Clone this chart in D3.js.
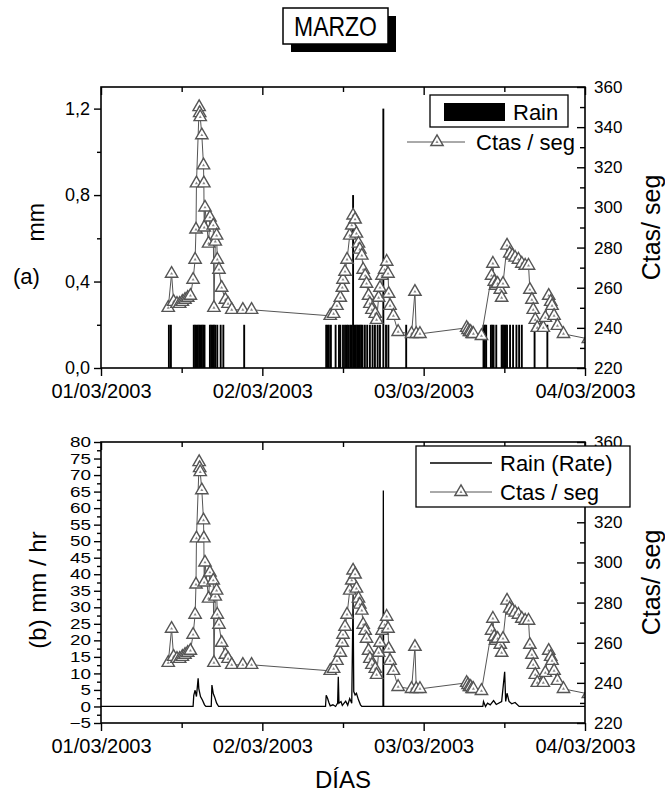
<!DOCTYPE html>
<html>
<head>
<meta charset="utf-8">
<script src="https://cdn.jsdelivr.net/npm/d3@7"></script>
<style>
  body { margin: 0; background: #fff; }
  svg { display: block; font-family: "Liberation Sans", Arial, Helvetica, sans-serif; }
</style>
</head>
<body>
<svg id="chart" width="665" height="800"></svg>
<script>
// ---- data (times are hours after 01/03/2003 00:00) ----
const xTickLabels = ["01/03/2003", "02/03/2003", "03/03/2003", "04/03/2003"];
const mmTicks = [0, 0.4, 0.8, 1.2];
const mmMinorTicks = [0.2, 0.6, 1.0];
const rateTicks = [-5, 0, 5, 10, 15, 20, 25, 30, 35, 40, 45, 50, 55, 60, 65, 70, 75, 80];
const ctasTicks = [220, 240, 260, 280, 300, 320, 340, 360];

// counts per second
const ctasHours = [
  10.0, 10.5, 10.8, 11.3, 11.7, 12.1, 12.5, 12.9, 13.3, 13.7, 14.0, 14.13, 14.2, 14.6, 14.68, 14.76,
  15.0, 15.25, 15.3, 15.35, 15.47, 16.0, 16.2, 16.7, 16.8, 17.0, 17.2, 17.3, 17.55, 17.95, 18.5, 18.9,
  19.45, 21.1, 22.4,
  34.1, 34.6, 35.1, 35.6, 35.9, 36.0, 36.3, 36.6, 37.0, 37.3, 37.5, 37.8, 38.0, 38.3, 38.5, 38.8,
  39.0, 39.3, 39.5, 39.8, 40.0, 40.3, 40.8, 41.0, 41.3, 41.5, 41.8, 42.2, 42.5, 42.7, 42.8, 43.0,
  43.5, 44.2, 46.2, 46.7, 46.9, 47.45,
  54.4, 54.6, 54.8, 55.0, 55.2, 55.4, 56.6, 58.1, 58.3, 58.5, 58.7, 59.0, 59.4, 59.6, 59.8, 60.4,
  60.8, 61.2, 61.6, 62.1, 62.6, 63.1, 63.6, 63.8, 64.1, 64.3, 64.6, 64.9, 65.8, 66.1, 66.6, 66.9,
  67.1, 67.4, 67.9, 68.8, 72.5
];
const ctasValues = [
  250, 267, 253, 252, 252, 253, 254, 255, 256, 264, 274, 289, 312, 350, 347, 345,
  336, 321, 312, 290, 300, 282, 295, 291, 250, 283, 286, 274, 269, 260, 254, 252,
  249, 249, 249,
  246, 247, 251, 255, 260, 264, 268, 274, 286, 291, 296, 294, 287, 282, 279, 276,
  269, 266, 262, 256, 252, 249, 247, 244, 255, 260, 266, 269, 273, 267, 257, 251,
  246, 238, 237, 258, 237, 237,
  240, 239, 238, 238, 237, 237, 236, 266, 272, 263, 261, 262, 259, 255, 262, 281,
  277, 276, 275, 274, 272, 271, 271, 259, 254, 249, 244, 240, 240, 245, 256, 253,
  251, 246, 241, 237, 234.5
];

// rain gauge tips (mm)
const rainHours = [
  10.1, 10.4, 13.8, 14.0, 14.2, 14.4, 14.6, 14.8, 15.0, 15.2, 15.4, 16.2, 16.4, 16.6, 16.8, 17.0,
  17.3, 17.8, 18.2, 21.3,
  33.5, 33.7, 33.9, 34.2, 34.9, 35.4, 35.6, 36.0, 36.3, 36.55, 36.75, 37.05, 37.3, 37.5, 37.7, 37.9,
  38.1, 38.3, 38.5, 38.7, 38.9, 39.25, 39.6, 40.0, 40.4, 40.75, 41.15, 41.5, 42.0, 42.4, 42.75, 45.4,
  56.9, 57.1, 57.3, 58.0, 58.2, 58.4, 58.8, 59.6, 59.8, 60.0, 60.2, 60.4, 60.85, 61.3, 61.8, 62.2,
  62.6, 64.5, 66.4
];
const rainMm = [
  0.2, 0.2, 0.2, 0.2, 0.2, 0.2, 0.2, 0.2, 0.2, 0.2, 0.2, 0.2, 0.2, 0.2, 0.2, 0.2,
  0.2, 0.2, 0.2, 0.2,
  0.2, 0.2, 0.2, 0.2, 0.2, 0.2, 0.2, 0.2, 0.2, 0.2, 0.2, 0.2, 0.2, 0.8, 0.2, 0.2,
  0.2, 0.2, 0.2, 0.2, 0.2, 0.2, 0.2, 0.2, 0.2, 0.2, 0.2, 0.2, 1.2, 0.2, 0.2, 0.2,
  0.2, 0.2, 0.2, 0.2, 0.2, 0.2, 0.2, 0.2, 0.2, 0.2, 0.2, 0.2, 0.2, 0.2, 0.2, 0.2,
  0.2, 0.2, 0.2
];

// rain rate (mm/hr)
const rateHours = [
  0, 13.7, 13.8, 14.0, 14.2, 14.45, 14.55, 14.8, 15.1, 15.4, 15.6, 16.4, 16.5, 16.7, 16.9, 17.2, 17.5,
  33.4, 33.5, 33.7, 33.9, 34.1, 34.5, 34.9, 35.2, 35.3, 35.4, 35.7, 35.9, 36.4, 36.7, 37.0, 37.3,
  37.5, 37.6, 37.8, 38.0, 38.3, 38.6, 38.8, 41.95, 42.0, 42.05,
  56.8, 56.9, 57.2, 57.5, 57.9, 58.4, 58.8, 59.6, 60.05, 60.2, 60.4, 60.7, 61.1, 61.6, 62.2, 72
];
const rateValues = [
  0, 0, 3.4, 4.9, 3, 8.5, 5.4, 3, 1.9, 0.5, 0, 0, 6.5, 3.9, 2.9, 1, 0,
  0, 3.4, 2.5, 1.2, 0.2, 0.5, 0, 1, 9, 1, 1.5, 0.3, 1.6, 0.4, 2.4, 1,
  33.7, 4.5, 3.5, 4, 2, 0.5, 0, 0, 65.3, 0,
  0, 1.5, 0, 1, 0.5, 1.8, 0.6, 1.5, 10.5, 1.5, 4, 1.5, 0.8, 1.2, 0, 0
];

// ---- layout ----
const svg = d3.select("#chart");
const X0 = 101, X1 = 585;
const A = { top: 87, bottom: 368 };
const B = { top: 442, bottom: 723 };
const LINE_GREY = "#555";
const FONT = "'Liberation Sans', Arial, sans-serif";

const parseDay = d3.timeParse("%d/%m/%Y");
const xTickDates = xTickLabels.map(parseDay);
const start = xTickDates[0];
const at = h => new Date(start.getTime() + h * 3600e3);

const x = d3.scaleTime().domain([xTickDates[0], xTickDates[xTickDates.length - 1]]).range([X0, X1]);
const xMinor = d3.timeHour.every(12).range(xTickDates[0], xTickDates[xTickDates.length - 1])
  .filter(d => d.getHours() !== 0);

const yMm = d3.scaleLinear().domain([0, 1.3]).range([A.bottom, A.top]);
const yRate = d3.scaleLinear().domain([-5, 80]).range([B.bottom, B.top]);
const yCtasA = d3.scaleLinear().domain([220, 360]).range([A.bottom, A.top]);
const yCtasB = d3.scaleLinear().domain([220, 360]).range([B.bottom, B.top]);

const commaFmt = d3.formatLocale({ decimal: ",", thousands: ".", grouping: [3], currency: ["", ""] }).format(".1f");

const ctas = ctasHours.map((h, i) => ({ t: at(h), v: ctasValues[i] }));
const rain = rainHours.map((h, i) => ({ t: at(h), v: rainMm[i] }));
const rate = rateHours.map((h, i) => ({ t: at(h), v: rateValues[i] }));

const defs = svg.append("defs");
[["clipA", A], ["clipB", B]].forEach(([id, p]) => {
  defs.append("clipPath").attr("id", id).append("rect")
    .attr("x", X0).attr("y", p.top).attr("width", X1 - X0).attr("height", p.bottom - p.top);
});

function styleAxis(g, fontSize) {
  g.select(".domain").remove();
  g.selectAll(".tick line").attr("stroke", "#000").attr("stroke-width", 1.4);
  g.selectAll(".tick text").attr("fill", "#000").attr("font-size", fontSize).attr("font-family", FONT);
}

function frame(p) {
  svg.append("rect").attr("x", X0).attr("y", p.top).attr("width", X1 - X0).attr("height", p.bottom - p.top)
    .attr("fill", "none").attr("stroke", "#000").attr("stroke-width", 1.6);
}

function xAxes(p) {
  // bottom: outward ticks and day labels
  svg.append("g").attr("transform", `translate(0,${p.bottom})`)
    .call(d3.axisBottom(x).tickValues(xTickDates).tickFormat(d3.timeFormat("%d/%m/%Y"))
      .tickSizeInner(8).tickSizeOuter(0).tickPadding(8))
    .call(g => styleAxis(g, 20));
  svg.append("g").attr("transform", `translate(0,${p.bottom})`)
    .call(d3.axisBottom(x).tickValues(xMinor).tickFormat("").tickSizeInner(5).tickSizeOuter(0))
    .call(g => styleAxis(g, 20));
  // top: inward ticks
  svg.append("g").attr("transform", `translate(0,${p.top})`)
    .call(d3.axisTop(x).tickValues(xTickDates).tickFormat("").tickSizeInner(-8).tickSizeOuter(0))
    .call(g => styleAxis(g, 20));
  svg.append("g").attr("transform", `translate(0,${p.top})`)
    .call(d3.axisTop(x).tickValues(xMinor).tickFormat("").tickSizeInner(-5).tickSizeOuter(0))
    .call(g => styleAxis(g, 20));
}

// hidden: tick values whose labels sit under a legend box
function ctasAxis(yScale, hidden) {
  svg.append("g").attr("transform", `translate(${X1},0)`)
    .call(d3.axisRight(yScale).tickValues(ctasTicks)
      .tickFormat(v => hidden.includes(v) ? "" : String(v))
      .tickSizeInner(-8).tickSizeOuter(0).tickPadding(9))
    .call(g => styleAxis(g, 17));
  const minor = ctasTicks.slice(0, -1).map(v => v + 10);
  svg.append("g").attr("transform", `translate(${X1},0)`)
    .call(d3.axisRight(yScale).tickValues(minor).tickFormat("").tickSizeInner(-5).tickSizeOuter(0))
    .call(g => styleAxis(g, 17));
}

const triPath = d3.symbol(d3.symbolTriangle, 66)();
const dotPath = d3.symbol(d3.symbolTriangle, 4)();

function drawCtas(g, yScale) {
  g.append("path").datum(ctas)
    .attr("d", d3.line().x(d => x(d.t)).y(d => yScale(d.v)))
    .attr("fill", "none").attr("stroke", LINE_GREY).attr("stroke-width", 1);
  const m = g.selectAll("g.tri").data(ctas).join("g").attr("class", "tri")
    .attr("transform", d => `translate(${x(d.t)},${yScale(d.v)})`);
  m.append("path").attr("d", triPath).attr("fill", "#fff").attr("stroke", LINE_GREY).attr("stroke-width", 1.4);
  m.append("path").attr("d", dotPath).attr("fill", "#888");
}

function ctasMarker(cx, cy) {
  svg.append("path").attr("d", triPath).attr("transform", `translate(${cx},${cy})`)
    .attr("fill", "#fff").attr("stroke", LINE_GREY).attr("stroke-width", 1.4);
  svg.append("path").attr("d", dotPath).attr("transform", `translate(${cx},${cy})`).attr("fill", "#888");
}

// ---- title ----
svg.append("rect").attr("x", 291).attr("y", 16).attr("width", 105).attr("height", 36).attr("fill", "#000");
svg.append("rect").attr("x", 283).attr("y", 8).attr("width", 105).attr("height", 36)
  .attr("fill", "#fff").attr("stroke", "#000").attr("stroke-width", 1.5);
svg.append("text").attr("transform", "translate(335.5,36) scale(0.82,1)")
  .attr("text-anchor", "middle").attr("font-size", 28).text("MARZO");

// ---- panel (a): rain totals + counts ----
const gA = svg.append("g").attr("clip-path", "url(#clipA)");
const barHalf = (x(at(0.28)) - x(at(0))) / 2;
gA.selectAll("rect.rain").data(rain).join("rect").attr("class", "rain")
  .attr("x", d => x(d.t) - barHalf).attr("width", barHalf * 2)
  .attr("y", d => yMm(d.v)).attr("height", d => yMm(0) - yMm(d.v))
  .attr("fill", "#000");
drawCtas(gA, yCtasA);

frame(A);
xAxes(A);
svg.append("g").attr("transform", `translate(${X0},0)`)
  .call(d3.axisLeft(yMm).tickValues(mmTicks).tickFormat(commaFmt).tickSizeInner(7).tickSizeOuter(0).tickPadding(4))
  .call(g => styleAxis(g, 18));
svg.append("g").attr("transform", `translate(${X0},0)`)
  .call(d3.axisLeft(yMm).tickValues(mmMinorTicks).tickFormat("").tickSizeInner(4).tickSizeOuter(0))
  .call(g => styleAxis(g, 18));
ctasAxis(yCtasA, []);

svg.append("text").attr("transform", `translate(44,${(yMm(0.8) + yMm(0.4)) / 2 - 16}) rotate(-90)`)
  .attr("text-anchor", "middle").attr("font-size", 23).text("mm");
svg.append("text").attr("x", 13).attr("y", 284).attr("font-size", 22).text("(a)");
svg.append("text").attr("transform", `translate(660,${(A.top + A.bottom) / 2}) rotate(-90)`)
  .attr("text-anchor", "middle").attr("font-size", 25).text("Ctas/ seg");

// legend (a)
svg.append("rect").attr("x", 430).attr("y", 95).attr("width", 138).attr("height", 32)
  .attr("fill", "#fff").attr("stroke", "#000").attr("stroke-width", 1.3);
svg.append("rect").attr("x", 444).attr("y", 103).attr("width", 61).attr("height", 18).attr("fill", "#000");
svg.append("text").attr("x", 513).attr("y", 120).attr("font-size", 22).text("Rain");
svg.append("line").attr("x1", 407).attr("x2", 465).attr("y1", 142).attr("y2", 142)
  .attr("stroke", LINE_GREY).attr("stroke-width", 1);
ctasMarker(437, 142);
svg.append("text").attr("x", 476).attr("y", 150).attr("font-size", 22).text("Ctas / seg");

// ---- panel (b): rain rate + counts ----
const gB = svg.append("g").attr("clip-path", "url(#clipB)");
gB.append("path").datum(rate)
  .attr("d", d3.line().x(d => x(d.t)).y(d => yRate(d.v)))
  .attr("fill", "none").attr("stroke", "#000").attr("stroke-width", 1.3);
drawCtas(gB, yCtasB);

frame(B);
xAxes(B);
svg.append("g").attr("transform", `translate(${X0},0)`)
  .call(d3.axisLeft(yRate).tickValues(rateTicks).tickSizeInner(7).tickSizeOuter(0).tickPadding(3))
  .call(g => styleAxis(g, 14.5))
  .call(g => g.selectAll(".tick text").each(function () {
    // widen the tightly stacked labels horizontally
    const w = this.getComputedTextLength();
    d3.select(this).attr("textLength", w * 1.3).attr("lengthAdjust", "spacingAndGlyphs");
  }));
svg.append("g").attr("transform", `translate(${X0},0)`)
  .call(d3.axisLeft(yRate).tickValues(rateTicks.slice(0, -1).map(v => v + 2.5)).tickFormat("")
    .tickSizeInner(4).tickSizeOuter(0))
  .call(g => styleAxis(g, 14.5));
ctasAxis(yCtasB, [340]);

svg.append("text").attr("transform", `translate(46,590) rotate(-90)`)
  .attr("text-anchor", "middle").attr("font-size", 24).text("(b)  mm / hr");
svg.append("text").attr("transform", `translate(660,${(B.top + B.bottom) / 2}) rotate(-90)`)
  .attr("text-anchor", "middle").attr("font-size", 25).text("Ctas/ seg");

// legend (b)
svg.append("rect").attr("x", 416).attr("y", 446).attr("width", 214).attr("height", 61)
  .attr("fill", "#fff").attr("stroke", "#000").attr("stroke-width", 1.3);
svg.append("line").attr("x1", 430).attr("x2", 492).attr("y1", 463).attr("y2", 463)
  .attr("stroke", "#000").attr("stroke-width", 1.3);
svg.append("text").attr("x", 500).attr("y", 471).attr("font-size", 22).text("Rain (Rate)");
svg.append("line").attr("x1", 430).attr("x2", 492).attr("y1", 492).attr("y2", 492)
  .attr("stroke", LINE_GREY).attr("stroke-width", 1);
ctasMarker(461, 492);
svg.append("text").attr("x", 500).attr("y", 500).attr("font-size", 22).text("Ctas / seg");

// x title
svg.append("text").attr("x", (X0 + X1) / 2).attr("y", 788).attr("text-anchor", "middle")
  .attr("font-size", 24).text("DÍAS");
</script>
</body>
</html>
